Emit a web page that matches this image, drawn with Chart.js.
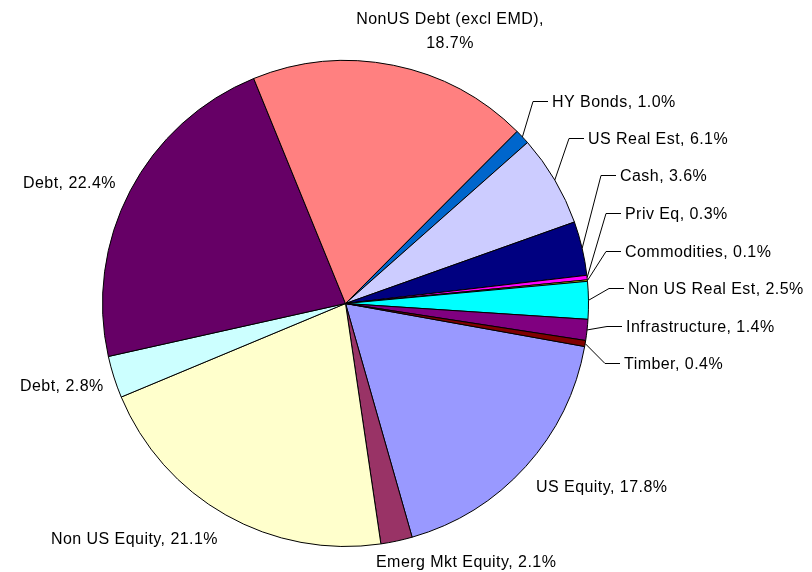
<!DOCTYPE html>
<html>
<head>
<meta charset="utf-8">
<script src="https://cdn.jsdelivr.net/npm/chart.js@4.4.1/dist/chart.umd.min.js"></script>
<style>
  html, body { margin: 0; padding: 0; background: #fff; }
  #wrap { width: 812px; height: 572px; position: relative; }
</style>
</head>
<body>
<div id="wrap"><canvas id="pieChart"></canvas></div>
<script>
// Slice data, clockwise from the first slice
const categories = [
  "US Equity", "Emerg Mkt Equity", "Non US Equity", "Debt", "Debt",
  "NonUS Debt (excl EMD)", "HY Bonds", "US Real Est", "Cash", "Priv Eq",
  "Commodities", "Non US Real Est", "Infrastructure", "Timber"
];
const shares = [17.8, 2.1, 21.1, 2.8, 22.4, 18.7, 1.0, 6.1, 3.6, 0.3, 0.1, 2.5, 1.4, 0.4];
const sliceColors = [
  "#9999FF", "#993366", "#FFFFCC", "#CCFFFF", "#660066",
  "#FF8080", "#0066CC", "#CCCCFF", "#000080", "#FF00FF",
  "#FFFF00", "#00FFFF", "#800080", "#800000"
];

// Label placement (layout only): x, baseline y, leader line?
const labelLayout = [
  { x: 536, y: 492 },
  { x: 376, y: 567 },
  { x: 51, y: 544 },
  { x: 20, y: 391 },
  { x: 23, y: 188 },
  { x: 450, y: 24, center: true, wrap: true },
  { x: 552, y: 107, leader: true },
  { x: 588, y: 144, leader: true },
  { x: 620, y: 181, leader: true },
  { x: 625, y: 219, leader: true },
  { x: 625, y: 257, leader: true },
  { x: 628, y: 294, leader: true },
  { x: 626, y: 332, leader: true },
  { x: 624, y: 369, leader: true }
];

const pieLabels = {
  id: "pieLabels",
  afterDatasetsDraw(chart) {
    const ctx = chart.ctx;
    const meta = chart.getDatasetMeta(0);
    ctx.save();
    ctx.font = "16px 'Liberation Sans', Arial, sans-serif";
    ctx.letterSpacing = "0.45px";
    ctx.fillStyle = "#000";
    ctx.strokeStyle = "#000";
    ctx.lineWidth = 1;
    ctx.textBaseline = "alphabetic";

    meta.data.forEach((arc, i) => {
      const pos = labelLayout[i];
      const pct = shares[i].toFixed(1) + "%";
      if (pos.leader) {
        const p = arc.getProps(["x", "y", "startAngle", "endAngle", "outerRadius"], true);
        const mid = (p.startAngle + p.endAngle) / 2;
        const sx = p.x + Math.cos(mid) * p.outerRadius;
        const sy = p.y + Math.sin(mid) * p.outerRadius;
        const my = pos.y - 5.5;
        ctx.beginPath();
        ctx.moveTo(sx, sy);
        ctx.lineTo(pos.x - 19, my);
        ctx.lineTo(pos.x - 4, my);
        ctx.stroke();
      }
      if (pos.wrap) {
        ctx.textAlign = "center";
        ctx.fillText(categories[i] + ",", pos.x, pos.y);
        ctx.fillText(pct, pos.x, pos.y + 24);
      } else {
        ctx.textAlign = "left";
        ctx.fillText(categories[i] + ", " + pct, pos.x, pos.y);
      }
    });
    ctx.restore();
  }
};

new Chart(document.getElementById("pieChart"), {
  type: "pie",
  data: {
    labels: categories,
    datasets: [{
      data: shares,
      backgroundColor: sliceColors,
      borderColor: "#000",
      borderWidth: 1
    }]
  },
  options: {
    responsive: true,
    maintainAspectRatio: false,
    animation: false,
    rotation: 100.2,
    layout: { padding: { left: 102, right: 223, top: 60, bottom: 25 } },
    plugins: {
      legend: { display: false },
      tooltip: { enabled: false }
    }
  },
  plugins: [pieLabels]
});
</script>
</body>
</html>
